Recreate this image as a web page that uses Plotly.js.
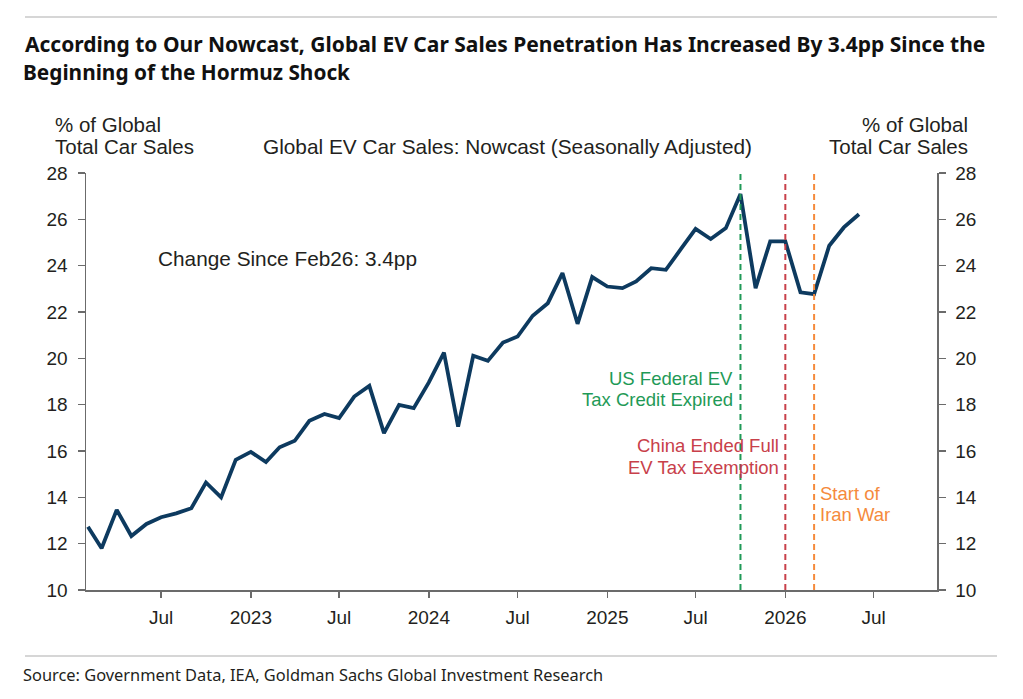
<!DOCTYPE html>
<html>
<head>
<meta charset="utf-8">
<script src="https://cdn.plot.ly/plotly-3.0.1.min.js"></script>
<style>
html,body{margin:0;padding:0;background:#fff;}
#chart{width:1023px;height:699px;}
</style>
</head>
<body>
<div id="chart"></div>
<script>
// ---- data ----
const months = [
  '2022-02-01','2022-03-01','2022-04-01','2022-05-01','2022-06-01','2022-07-01','2022-08-01','2022-09-01','2022-10-01','2022-11-01','2022-12-01',
  '2023-01-01','2023-02-01','2023-03-01','2023-04-01','2023-05-01','2023-06-01','2023-07-01','2023-08-01','2023-09-01','2023-10-01','2023-11-01','2023-12-01',
  '2024-01-01','2024-02-01','2024-03-01','2024-04-01','2024-05-01','2024-06-01','2024-07-01','2024-08-01','2024-09-01','2024-10-01','2024-11-01','2024-12-01',
  '2025-01-01','2025-02-01','2025-03-01','2025-04-01','2025-05-01','2025-06-01','2025-07-01','2025-08-01','2025-09-01','2025-10-01','2025-11-01','2025-12-01',
  '2026-01-01','2026-02-01','2026-03-01','2026-04-01','2026-05-01','2026-06-01'
];
const evShare = [
  12.73,11.80,13.46,12.33,12.85,13.14,13.31,13.53,14.64,14.00,15.62,
  15.96,15.52,16.16,16.44,17.30,17.60,17.42,18.35,18.81,16.77,17.99,17.85,
  18.96,20.25,17.05,20.11,19.89,20.68,20.94,21.84,22.38,23.68,21.49,23.51,
  23.10,23.03,23.32,23.89,23.82,24.72,25.59,25.15,25.62,27.09,23.03,25.05,
  25.05,22.85,22.77,24.86,25.65,26.22
];
const xTickVals = ['2022-07-01','2023-01-01','2023-07-01','2024-01-01','2024-07-01','2025-01-01','2025-07-01','2026-01-01','2026-07-01'];
const xTickText = ['Jul','2023','Jul','2024','Jul','2025','Jul','2026','Jul'];
const yTickVals = [10,12,14,16,18,20,22,24,26,28];
const eventDates = ['2025-10-01','2026-01-01','2026-03-01'];
const eventColors = ['#1f9a57','#c8404a','#f58a3c'];
const eventLabels = [
  ['US Federal EV','Tax Credit Expired'],
  ['China Ended Full','EV Tax Exemption'],
  ['Start of','Iran War']
];
const titleLines = ['According to Our Nowcast, Global EV Car Sales Penetration Has Increased By 3.4pp Since the','Beginning of the Hormuz Shock'];
const seriesTitle = 'Global EV Car Sales: Nowcast (Seasonally Adjusted)';
const axisTitleLines = ['% of Global','Total Car Sales'];
const changeNote = 'Change Since Feb26: 3.4pp';
const sourceText = 'Source: Government Data, IEA, Goldman Sachs Global Investment Research';

// ---- layout geometry (pixels) ----
const W = 1023, H = 699;
const L = 86, R = 937, T = 173, B = 590;
const px = v => (v - L) / (R - L);
const py = v => (B - v) / (B - T);

const txtFont = "'Liberation Sans', Arial, sans-serif";
const titleFont = "'Noto Sans', sans-serif";
const dark = '#231f20';
const axisCol = '#6b6b6b';

const traces = [
  {x: months, y: evShare, type: 'scatter', mode: 'lines', line: {color: '#0d3a5f', width: 3.8}, hoverinfo: 'x+y', showlegend: false},
  {x: months, y: evShare, type: 'scatter', mode: 'lines', yaxis: 'y2', line: {color: 'rgba(0,0,0,0)', width: 0}, hoverinfo: 'skip', showlegend: false}
];

const annotations = [];
function addText(text, x, y, color, size, xanchor, family) {
  const shift = xanchor === 'left' ? -3 : (xanchor === 'right' ? 3 : 0);
  annotations.push({text: text, xref: 'paper', yref: 'paper', x: px(x + shift), y: py(y), xanchor: xanchor, yanchor: 'middle',
    showarrow: false, borderpad: 0, font: {family: family || txtFont, size: size, color: color}});
}
addText(axisTitleLines[0], 57, 124, dark, 20.5, 'left');
addText(axisTitleLines[1], 57, 147, dark, 20.5, 'left');
addText(axisTitleLines[0], 966, 124, dark, 20.5, 'right');
addText(axisTitleLines[1], 966, 147, dark, 20.5, 'right');
addText(seriesTitle, 265, 147, dark, 20.8, 'left');
addText(changeNote, 160, 258, dark, 20.8, 'left');
addText(eventLabels[0][0], 731, 378, eventColors[0], 18.5, 'right');
addText(eventLabels[0][1], 731, 399, eventColors[0], 18.5, 'right');
addText(eventLabels[1][0], 777, 446, eventColors[1], 18.5, 'right');
addText(eventLabels[1][1], 777, 467, eventColors[1], 18.5, 'right');
addText(eventLabels[2][0], 822, 493, eventColors[2], 18.5, 'left');
addText(eventLabels[2][1], 822, 514, eventColors[2], 18.5, 'left');
addText(sourceText, 25, 674, dark, 16.4, 'left', titleFont);
addText('<b>' + titleLines[1] + '</b>', 25, 72, '#111', 20.8, 'left', titleFont);

const shapes = [
  {type: 'line', xref: 'paper', yref: 'paper', x0: px(25), x1: px(997), y0: py(17), y1: py(17), line: {color: '#c8c8c8', width: 1.5}},
  {type: 'line', xref: 'paper', yref: 'paper', x0: px(25), x1: px(997), y0: py(656), y1: py(656), line: {color: '#c8c8c8', width: 1.5}}
];
eventDates.forEach((d, i) => {
  shapes.push({type: 'line', xref: 'x', yref: 'paper', x0: d, x1: d, y0: 0, y1: 1, line: {color: eventColors[i], width: 2, dash: '6px,4px'}});
});

const layout = {
  width: W, height: H,
  margin: {l: L, r: W - R, t: T, b: H - B, pad: 0},
  paper_bgcolor: '#fff', plot_bgcolor: '#fff',
  title: {text: '<b>' + titleLines[0] + '</b>', xref: 'container', yref: 'container', x: 25 / W, xanchor: 'left', y: 1 - 45 / H, yanchor: 'middle',
    font: {family: titleFont, size: 21, color: '#111'}},
  showlegend: false,
  xaxis: {type: 'date', range: ['2022-01-28', '2026-11-08'], tickvals: xTickVals, ticktext: xTickText,
    showgrid: false, zeroline: false, showline: true, linecolor: axisCol, linewidth: 1.5,
    ticks: 'outside', ticklen: 6, tickcolor: axisCol, tickwidth: 1.5, ticklabelstandoff: 4,
    tickfont: {family: txtFont, size: 19, color: dark}},
  yaxis: {range: [10, 28], tickvals: yTickVals, showgrid: false, zeroline: false, showline: true, linecolor: axisCol, linewidth: 1.5,
    ticks: 'outside', ticklen: 7, tickcolor: axisCol, tickwidth: 1.5, ticklabelstandoff: 6,
    tickfont: {family: txtFont, size: 19, color: dark}},
  yaxis2: {range: [10, 28], tickvals: yTickVals, overlaying: 'y', side: 'right', showgrid: false, zeroline: false, showline: true, linecolor: axisCol, linewidth: 1.5,
    ticks: 'outside', ticklen: 7, tickcolor: axisCol, tickwidth: 1.5, ticklabelstandoff: 6,
    tickfont: {family: txtFont, size: 19, color: dark}},
  annotations: annotations,
  shapes: shapes
};

Plotly.newPlot('chart', traces, layout, {displayModeBar: false, staticPlot: true});
</script>
</body>
</html>
